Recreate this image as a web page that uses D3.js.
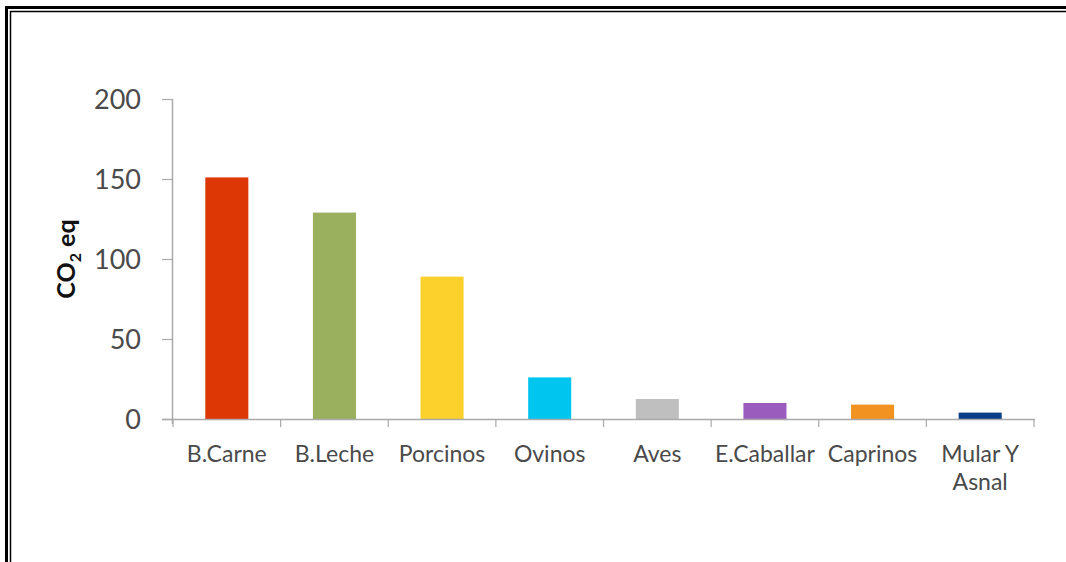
<!DOCTYPE html>
<html>
<head>
<meta charset="utf-8">
<script src="https://cdn.jsdelivr.net/npm/d3@7"></script>
<style>
  html, body { margin: 0; padding: 0; background: #fff; }
  svg { display: block; }
</style>
</head>
<body>
<svg id="chart" width="1066" height="562"></svg>
<script>
// Emisiones por especie ganadera (CO2 eq)
const categories = ["B.Carne", "B.Leche", "Porcinos", "Ovinos", "Aves", "E.Caballar", "Caprinos", "Mular Y\nAsnal"];
const values = [151, 129, 89, 26, 12.5, 10, 9, 4];
const colors = ["#dc3705", "#9bb05f", "#fdd12b", "#00c5ef", "#bfbfbf", "#9a5cbd", "#f29321", "#0b3e86"];
const yTicks = [0, 50, 100, 150, 200];

const svg = d3.select("#chart");
const W = 1066, H = 562;

// double frame along the top and left edges
svg.append("path").attr("d", `M6.5,${H} V7.5 H${W}`)
  .attr("fill", "none").attr("stroke", "#000").attr("stroke-width", 3);
svg.append("path").attr("d", `M10.5,${H} V11.5 H${W}`)
  .attr("fill", "none").attr("stroke", "#000").attr("stroke-width", 1.5);

const plot = { left: 173, right: 1034, top: 99, bottom: 419 };

const x = d3.scaleBand()
  .domain(categories)
  .range([plot.left, plot.right])
  .paddingInner(0.6)
  .paddingOuter(0.3);

const y = d3.scaleLinear()
  .domain([0, 200])
  .range([plot.bottom, plot.top]);

const axisColor = "#a9a9a9";
const textColor = "#4a4a4a";
const font = "Lato, 'Open Sans', sans-serif";

// bars
svg.append("g").selectAll("rect")
  .data(categories)
  .join("rect")
  .attr("x", d => x(d))
  .attr("width", x.bandwidth())
  .attr("y", (d, i) => y(values[i]))
  .attr("height", (d, i) => y(0) - y(values[i]))
  .attr("fill", (d, i) => colors[i]);

// y axis
const yAxis = svg.append("g")
  .attr("transform", `translate(${plot.left},0)`)
  .call(d3.axisLeft(y).tickValues(yTicks).tickSize(11).tickPadding(21));
yAxis.select(".domain").attr("stroke", axisColor).attr("stroke-width", 1.5)
  .attr("d", `M-0.5,${plot.top} V${plot.bottom + 5}`);
yAxis.selectAll(".tick line").attr("stroke", axisColor).attr("stroke-width", 1.2);
yAxis.selectAll(".tick text")
  .attr("fill", textColor)
  .style("font-family", font)
  .style("font-size", "27px")
  .attr("dy", "0.36em");

// x axis: ticks at category boundaries
const step = x.step();
const boundaries = d3.range(categories.length + 1).map(i => plot.left + i * step);
const xg = svg.append("g");
xg.append("line")
  .attr("x1", plot.left - 11).attr("x2", plot.right + 1)
  .attr("y1", plot.bottom + 0.5).attr("y2", plot.bottom + 0.5)
  .attr("stroke", axisColor).attr("stroke-width", 1.5);
xg.selectAll("line.tick")
  .data(boundaries)
  .join("line")
  .attr("class", "tick")
  .attr("x1", d => d).attr("x2", d => d)
  .attr("y1", plot.bottom).attr("y2", plot.bottom + 8)
  .attr("stroke", axisColor).attr("stroke-width", 1.2);

// category labels
const labels = xg.selectAll("text")
  .data(categories)
  .join("text")
  .attr("x", d => x(d) + x.bandwidth() / 2)
  .attr("y", 462)
  .attr("text-anchor", "middle")
  .attr("fill", textColor)
  .style("font-family", font)
  .style("font-size", "23px");
labels.each(function(d) {
  const lines = d.split("\n");
  d3.select(this).selectAll("tspan")
    .data(lines)
    .join("tspan")
    .attr("x", x(d) + x.bandwidth() / 2)
    .attr("dy", (l, i) => i === 0 ? 0 : 28)
    .text(l => l);
});

// y-axis title: CO2 eq
const title = svg.append("text")
  .attr("transform", `translate(75,${(plot.top + plot.bottom) / 2}) rotate(-90)`)
  .attr("text-anchor", "middle")
  .attr("fill", "#111")
  .style("font-family", font)
  .style("font-size", "25px")
  .style("font-weight", "bold");
title.append("tspan").text("CO");
title.append("tspan").text("2").attr("dy", 6).style("font-size", "16px");
title.append("tspan").text(" eq").attr("dy", -6);
</script>
</body>
</html>
